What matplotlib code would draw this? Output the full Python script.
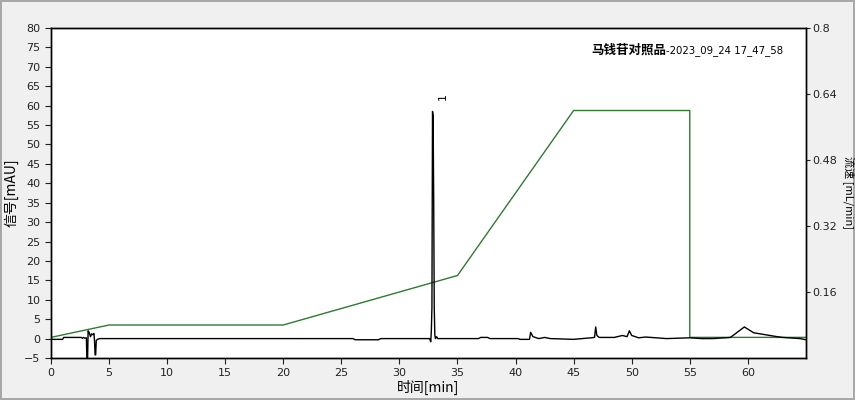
import matplotlib.pyplot as plt
import numpy as np

plt.rcParams['font.family'] = ['DejaVu Sans', 'Noto Sans CJK SC']

# signal trace (mAU)
sig_t = [0, 1.0, 1.1, 2.6, 2.7, 2.8, 2.9, 3.05, 3.1, 3.15, 3.2, 3.3, 3.4, 3.5, 3.6,
         3.7, 3.75, 3.8, 3.85, 3.9, 4.0, 4.2, 26.0, 26.2, 28.2, 28.4, 29.0, 29.2,
         32.6, 32.7, 32.75, 32.8, 32.85, 32.9, 32.95, 33.0, 33.05, 33.1, 33.2, 33.3,
         33.5, 36.8, 37.0, 37.6, 37.8, 40.2, 40.4, 41.2, 41.3, 41.5, 42.0, 42.5, 43.0,
         45.0, 46.5, 46.8, 46.9, 47.0, 47.2, 48.5, 49.2, 49.6, 49.8, 50.0, 50.2, 50.6,
         51.2, 53.0, 55.0, 56.0, 57.0, 58.5, 59.7, 60.5, 62.5, 63.0, 64.5, 65.0]
sig_y = [-0.2, -0.2, 0.3, 0.3, 0.1, 0.3, 0.1, 0.2, -6, -6, 2.0, 1.5, 0.5, 1.2, 1.0,
         1.3, -0.5, -4.2, -4.2, -0.5, -0.2, 0.0, 0.0, -0.3, -0.3, 0.0, 0.0, 0.0,
         0.0, -0.8, 2.0, 8.0, 58.5, 57.5, 37.0, 8.0, 1.0, 0.0, 0.5, 0.0,
         0.0, 0.0, 0.3, 0.3, 0.0, 0.0, -0.2, -0.2, 1.6, 0.5, 0.0, 0.3, 0.0,
         -0.2, 0.2, 0.3, 3.0, 0.8, 0.3, 0.3, 0.8, 0.5, 2.0, 0.8, 0.6, 0.2,
         0.4, 0.0, 0.2, 0.0, 0.0, 0.3, 3.0, 1.5, 0.5, 0.3, 0.0, -0.3]

# flow rate program (mL/min)
flow_t = [0, 5, 20, 35, 45, 55, 55, 65]
flow_v = [0.05, 0.08, 0.08, 0.20, 0.60, 0.60, 0.05, 0.05]

fig = plt.figure(figsize=(8.55, 4), dpi=100, facecolor='#f0f0f0',
                 edgecolor='#a8a8a8', linewidth=1.5)
ax = fig.add_axes([0.0596, 0.105, 0.883, 0.825])
ax.set_facecolor('white')
ax2 = ax.twinx()

ax.plot(sig_t, sig_y, color='black', lw=1.0, zorder=3)
ax2.plot(flow_t, flow_v, color='#2f7a32', lw=1.0)
ax.set_zorder(ax2.get_zorder() + 1)
ax.patch.set_visible(False)
ax2.patch.set_visible(True)
ax2.patch.set_facecolor('white')

ax.set_xlim(0, 65)
ax.set_ylim(-5, 80)
ax2.set_ylim(0, 0.8)
ax.set_xticks(np.arange(0, 65, 5))
ax.set_yticks(np.arange(-5, 81, 5))
ax2.set_yticks([0.16, 0.32, 0.48, 0.64, 0.8])
ax2.set_yticklabels(['0.16', '0.32', '0.48', '0.64', '0.8'])

for a in (ax, ax2):
    a.tick_params(direction='out', length=4, width=0.8, labelsize=8, colors='#222222')
    for s in a.spines.values():
        s.set_color('black')
        s.set_linewidth(1.0)
ax2.tick_params(length=3, pad=1.5)

ax.text(33.3, 61.5, '1', rotation=90, fontsize=8, ha='left', va='bottom')

ax.set_xlabel('时间[min]', fontsize=10, family=['Noto Sans CJK SC'], labelpad=1)
ax.set_ylabel('信号[mAU]', fontsize=10, family=['Noto Sans CJK SC'], labelpad=4)
ax2.set_ylabel('流速 [mL/min]', fontsize=8, family=['Noto Sans CJK SC'],
               rotation=270, va='center')
ax2.yaxis.set_label_coords(1.056, 0.5)

fig.text(666 / 855, 0.875, '马钱苷对照品', fontsize=9, fontweight='bold',
         family=['Noto Sans CJK SC'], ha='right', va='center')
fig.text(666 / 855, 0.873, '-2023_09_24 17_47_58', fontsize=7.3,
         ha='left', va='center')

fig.savefig('out.png', dpi=100, facecolor=fig.get_facecolor(),
            edgecolor=fig.get_edgecolor())
